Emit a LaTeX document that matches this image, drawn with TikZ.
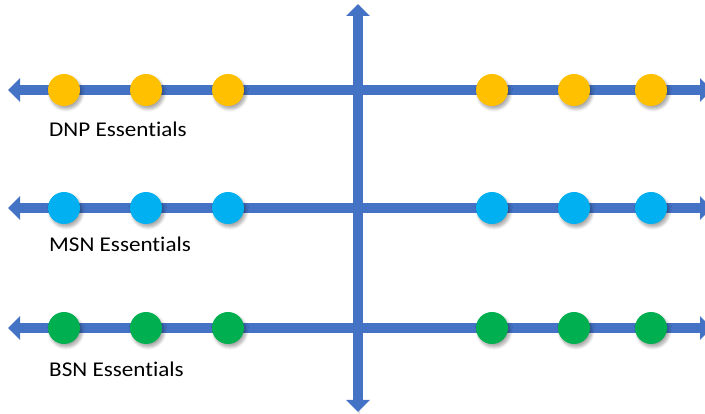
\documentclass[tikz,border=0pt]{standalone}
\usepackage{fontspec}
\setmainfont{Carlito}[Ligatures=NoCommon]
\usetikzlibrary{arrows.meta,shadows.blur}
\definecolor{axisblue}{HTML}{4472C4}
\definecolor{dnpyellow}{HTML}{FFC000}
\definecolor{msncyan}{HTML}{00B0F0}
\definecolor{bsngreen}{HTML}{00B050}
\tikzset{
  axisline/.style={draw=axisblue, line width=10pt, -{Triangle[width=23pt,length=12pt]},
    blur shadow={shadow xshift=1pt, shadow yshift=-1.5pt, shadow blur steps=4, shadow opacity=25}},
  dot/.style={circle, minimum size=32pt, inner sep=0pt, draw=none,
    blur shadow={shadow xshift=2pt, shadow yshift=-3pt, shadow blur radius=3pt, shadow blur steps=6, shadow opacity=35}},
  lbl/.style={anchor=base west, inner sep=0pt, xscale=1.1, font=\fontsize{21pt}{25pt}\selectfont, text=black},
}
\begin{document}
\begin{tikzpicture}[x=1pt,y=-1pt]
\useasboundingbox (0,0) rectangle (705,414);
% end points
\coordinate (vtop) at (358,4);
\coordinate (vbot) at (358,412);
\coordinate (c) at (358,208);
\foreach \r/\yy in {1/90,2/208,3/328}{
  \coordinate (l\r) at (8,\yy);
  \coordinate (r\r) at (712,\yy);
  \coordinate (m\r) at (358,\yy);
}
% horizontal axes
\foreach \r in {1,2,3}{
  \draw[axisline] (m\r) -- (l\r);
  \draw[axisline] (m\r) -- (r\r);
}
% vertical axis
\draw[axisline] (c) -- (vtop);
\draw[axisline] (c) -- (vbot);
% dots
\foreach \r/\yy/\col in {1/90/dnpyellow,2/208/msncyan,3/328/bsngreen}{
  \foreach \i/\xx in {1/64,2/146,3/228,4/492,5/574,6/651}{
    \node[dot, fill=\col] (d\r\i) at (\xx,\yy) {};
  }
}
% labels
\node[lbl] (dnp) at (49,137) {DNP Essentials};
\node[lbl] (msn) at (49,252) {MSN Essentials};
\node[lbl] (bsn) at (49,377) {BSN Essentials};
\end{tikzpicture}
\end{document}
